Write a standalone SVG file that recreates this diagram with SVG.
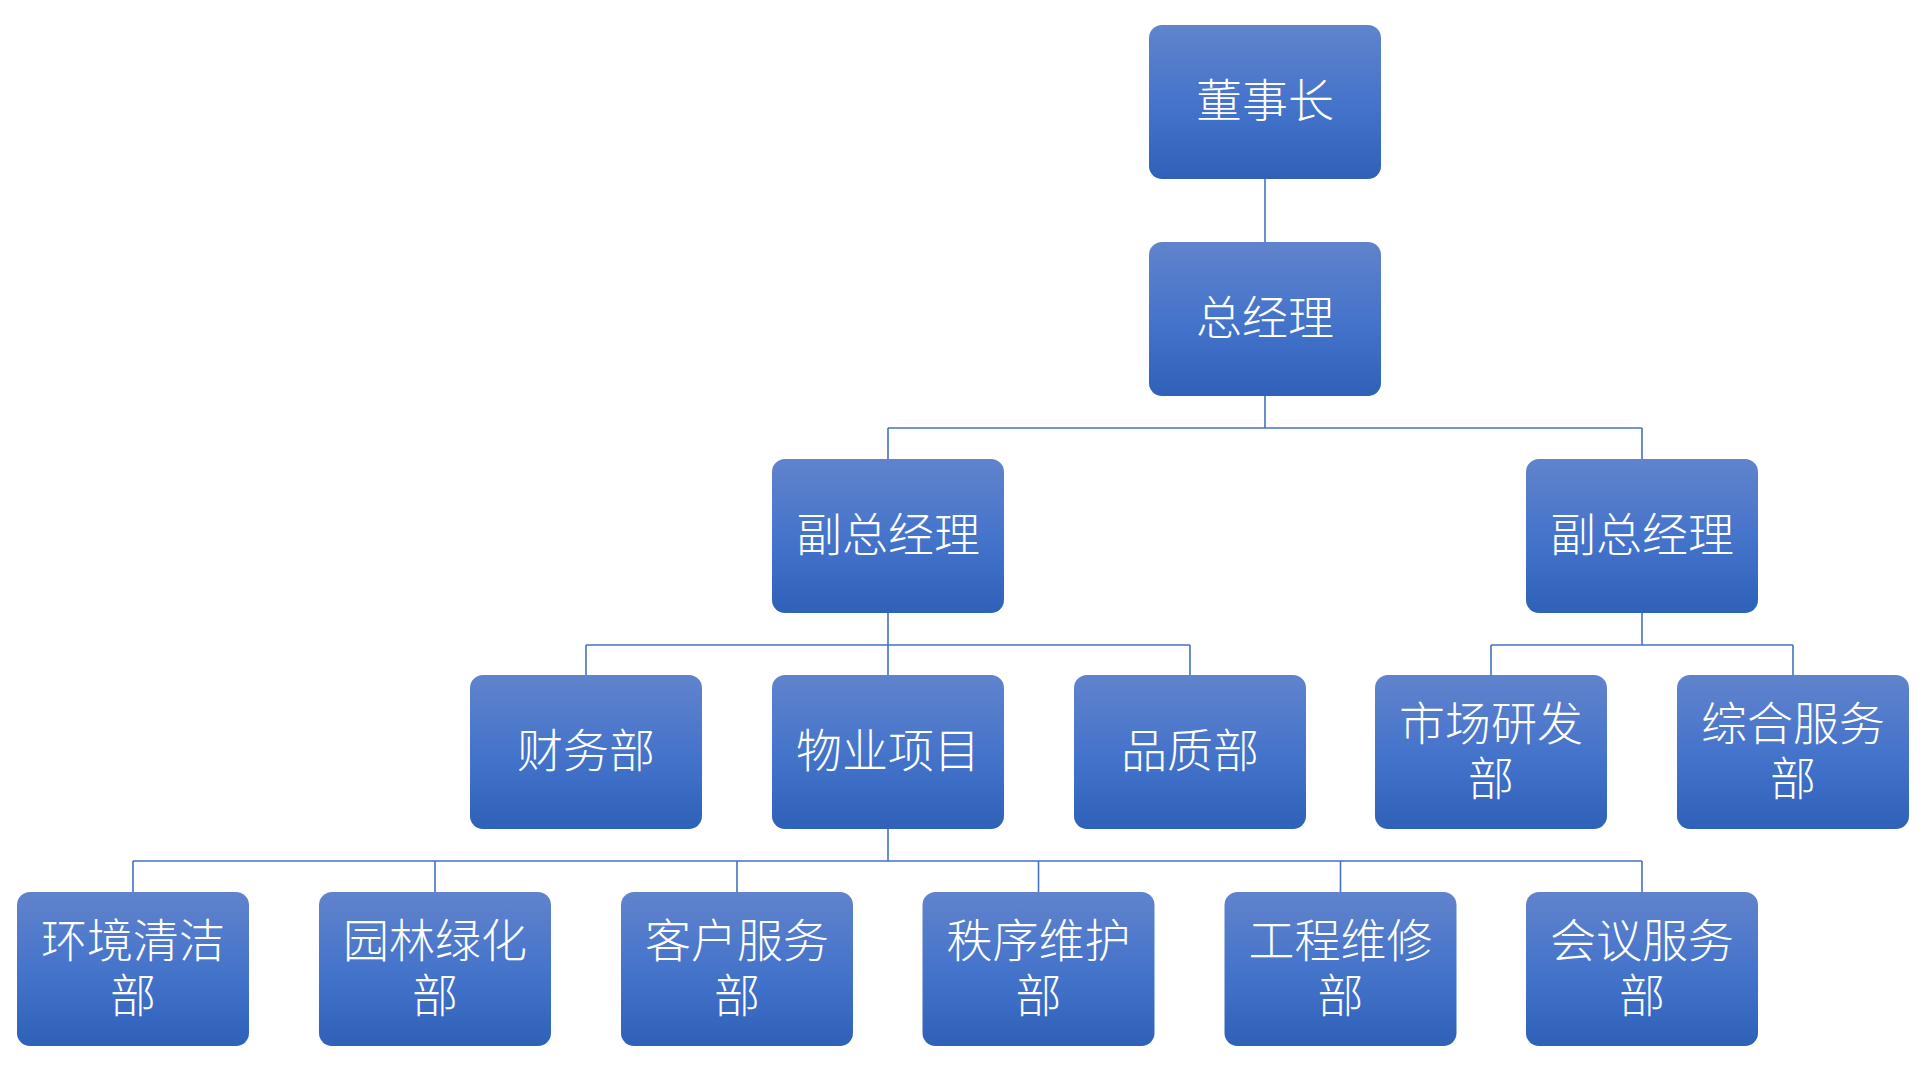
<svg xmlns="http://www.w3.org/2000/svg" width="1920" height="1080" viewBox="0 0 1920 1080">
<defs>
<linearGradient id="g" x1="0" y1="0" x2="0" y2="1">
<stop offset="0" stop-color="#6183cc"/>
<stop offset="0.5" stop-color="#4574cb"/>
<stop offset="1" stop-color="#2f61b9"/>
</linearGradient>
</defs>
<style>
.box{fill:url(#g);}
.t{fill:#ffffff;font-family:"Noto Sans CJK SC","Noto Sans CJK JP",sans-serif;font-size:46px;font-weight:300;text-anchor:middle;dominant-baseline:central;}
.c{fill:none;stroke:#4472c4;stroke-width:1.6;}
</style>
<rect width="1920" height="1080" fill="#ffffff"/>
<g id="connectors" class="c">
<path d="M1265,179V242"/>
<path d="M1265,396V428M888,428H1642M888,428V459M1642,428V459"/>
<path d="M888,613V645M586,645H1190M586,645V675M888,645V675M1190,645V675"/>
<path d="M1642,613V645M1491,645H1793M1491,645V675M1793,645V675"/>
<path d="M888,829V861M133,861H1642M133,861V892M435,861V892M737,861V892M1038.5,861V892M1340.5,861V892M1642,861V892"/>
</g>
<g id="n-chairman"><rect class="box" x="1149" y="25" width="232" height="154" rx="13"/><text class="t" x="1265" y="97">董事长</text></g>
<g id="n-gm"><rect class="box" x="1149" y="242" width="232" height="154" rx="13"/><text class="t" x="1265" y="314">总经理</text></g>
<g id="n-vp1"><rect class="box" x="772" y="459" width="232" height="154" rx="13"/><text class="t" x="888" y="531">副总经理</text></g>
<g id="n-vp2"><rect class="box" x="1526" y="459" width="232" height="154" rx="13"/><text class="t" x="1642" y="531">副总经理</text></g>
<g id="n-finance"><rect class="box" x="470" y="675" width="232" height="154" rx="13"/><text class="t" x="586" y="747">财务部</text></g>
<g id="n-property"><rect class="box" x="772" y="675" width="232" height="154" rx="13"/><text class="t" x="888" y="747">物业项目</text></g>
<g id="n-quality"><rect class="box" x="1074" y="675" width="232" height="154" rx="13"/><text class="t" x="1190" y="747">品质部</text></g>
<g id="n-market"><rect class="box" x="1375" y="675" width="232" height="154" rx="13"/><text class="t" x="1491" y="719.5">市场研发</text><text class="t" x="1491" y="774.5">部</text></g>
<g id="n-general"><rect class="box" x="1677" y="675" width="232" height="154" rx="13"/><text class="t" x="1793" y="719.5">综合服务</text><text class="t" x="1793" y="774.5">部</text></g>
<g id="n-env"><rect class="box" x="17" y="892" width="232" height="154" rx="13"/><text class="t" x="133" y="936.5">环境清洁</text><text class="t" x="133" y="991.5">部</text></g>
<g id="n-garden"><rect class="box" x="319" y="892" width="232" height="154" rx="13"/><text class="t" x="435" y="936.5">园林绿化</text><text class="t" x="435" y="991.5">部</text></g>
<g id="n-customer"><rect class="box" x="621" y="892" width="232" height="154" rx="13"/><text class="t" x="737" y="936.5">客户服务</text><text class="t" x="737" y="991.5">部</text></g>
<g id="n-order"><rect class="box" x="922.5" y="892" width="232" height="154" rx="13"/><text class="t" x="1038.5" y="936.5">秩序维护</text><text class="t" x="1038.5" y="991.5">部</text></g>
<g id="n-engineering"><rect class="box" x="1224.5" y="892" width="232" height="154" rx="13"/><text class="t" x="1340.5" y="936.5">工程维修</text><text class="t" x="1340.5" y="991.5">部</text></g>
<g id="n-meeting"><rect class="box" x="1526" y="892" width="232" height="154" rx="13"/><text class="t" x="1642" y="936.5">会议服务</text><text class="t" x="1642" y="991.5">部</text></g>
</svg>
